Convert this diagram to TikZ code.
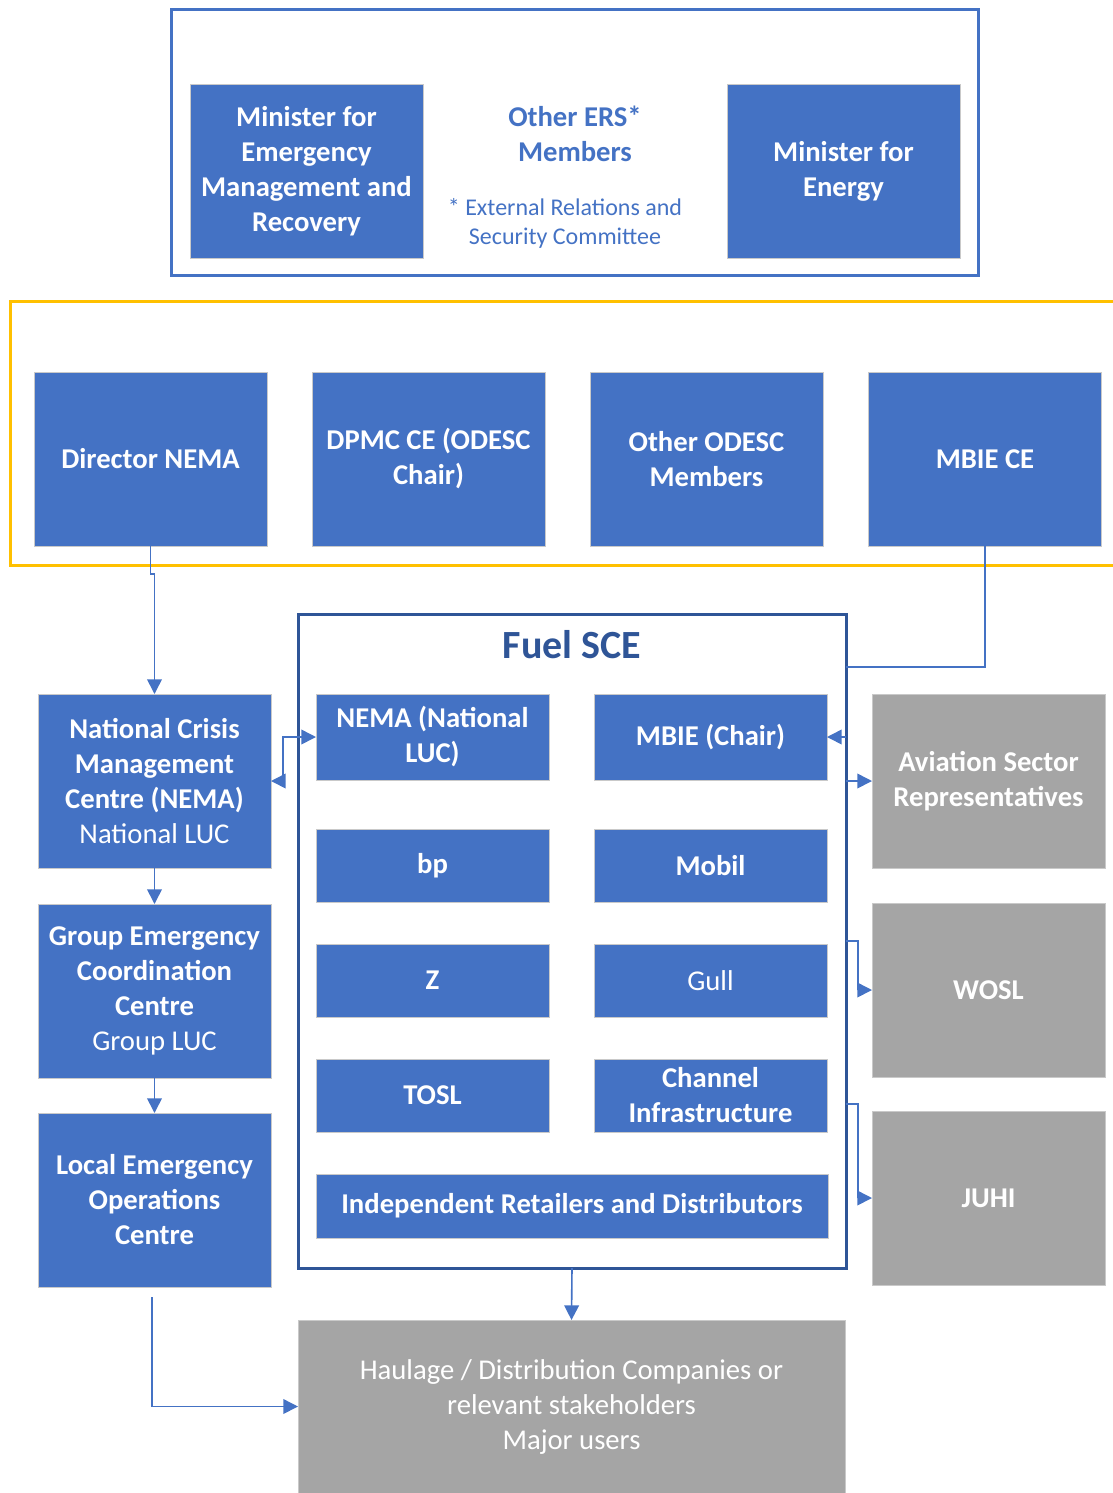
\documentclass[tikz,border=0pt]{standalone}
\usepackage{fontspec}
\setmainfont{Carlito}
\usetikzlibrary{arrows.meta, positioning}
\definecolor{boxblue}{HTML}{4472C4}
\definecolor{darkblue}{HTML}{2F5597}
\definecolor{boxgray}{HTML}{A5A5A5}
\definecolor{frameyellow}{HTML}{FFC000}
\definecolor{edgeline}{HTML}{C9C9C9}
\tikzset{
  box/.style={draw=edgeline, line width=0.75pt, fill=boxblue, text=white, align=center,
    font=\fontsize{21.5}{26.25}\selectfont\bfseries, inner sep=0pt, outer sep=0pt},
  bigbox/.style={box, minimum width=174.75pt, minimum height=130.5pt},
  smallbox/.style={box, minimum width=174.75pt, minimum height=54.75pt},
  graybox/.style={bigbox, fill=boxgray},
  conn/.style={draw=boxblue, line width=1.2pt},
  arr/.style={conn, -{Triangle[length=11pt,width=11pt]}}
}
\begin{document}
\begin{tikzpicture}[x=0.75pt,y=-0.75pt]
  \useasboundingbox (0,0) rectangle (1113,1493);
  \draw[boxblue, line width=2.25pt] (171,9) rectangle (978,275);
  \node[bigbox] (memr) at (306.5,171) {Minister for\\Emergency\\Management and\\Recovery};
  \node[align=center, text=boxblue, font=\fontsize{21.5}{26.25}\selectfont\bfseries] (ers) at (575,134) {Other ERS*\\Members};
  \node[align=center, text=boxblue, font=\fontsize{18}{21.75}\selectfont] (ersnote) at (565,223) {* External Relations and\\Security Committee};
  \node[bigbox] (menergy) at (843.5,171) {Minister for\\Energy};
  \draw[frameyellow, line width=2.25pt] (10,301) rectangle (1130,565);
  \node[bigbox] (director) at (150.5,459) {Director NEMA};
  \node[bigbox] (dpmc) at (428.5,459) {DPMC CE (ODESC\\Chair)};
  \node[bigbox] (odesc) at (706.5,459) {Other ODESC\\Members};
  \node[bigbox] (mbiece) at (985,459) {MBIE CE};
  \node[draw=darkblue, line width=2.25pt, minimum width=411pt, minimum height=490.5pt, outer sep=0pt] (fuel) at (572,941) {};
  \node[text=darkblue, font=\fontsize{30}{35}\selectfont\bfseries] (fueltitle) at (572,645) {Fuel SCE};
  \node[bigbox] (ncmc) at (154.5,781) {National Crisis\\Management\\Centre (NEMA)\\{\mdseries National LUC}};
  \node[bigbox] (gecc) at (154.5,991) {Group Emergency\\Coordination\\Centre\\{\mdseries Group LUC}};
  \node[bigbox] (leoc) at (154.5,1200) {Local Emergency\\Operations\\Centre};
  \node[smallbox, minimum height=64.5pt] (nemaluc) at (432.5,737) {NEMA (National\\LUC)};
  \node[smallbox, minimum height=64.5pt] (mbiechair) at (710.5,737) {MBIE (Chair)};
  \node[smallbox] (bp) at (432.5,865.5) {bp};
  \node[smallbox] (mobil) at (710.5,865.5) {Mobil};
  \node[smallbox] (z) at (432.5,980.5) {Z};
  \node[smallbox, font=\fontsize{21.5}{26.25}\selectfont] (gull) at (710.5,980.5) {Gull};
  \node[smallbox] (tosl) at (432.5,1095.5) {TOSL};
  \node[smallbox] (channel) at (710.5,1095.5) {Channel\\Infrastructure};
  \node[box, minimum width=384pt, minimum height=48pt] (indep) at (572,1206) {Independent Retailers and Distributors};
  \node[graybox] (aviation) at (988.5,781) {Aviation Sector\\Representatives};
  \node[graybox] (wosl) at (988.5,990) {WOSL};
  \node[graybox] (juhi) at (988.5,1198) {JUHI};
  \node[graybox, minimum width=410.25pt, minimum height=129.75pt, font=\fontsize{21.5}{26.25}\selectfont] (haulage) at (571.5,1406.5) {Haulage / Distribution Companies or\\relevant stakeholders\\Major users};
  \draw[arr] (director.south) -- ++(0,28) -| (ncmc.north);
  \draw[conn] (mbiece.south) |- (fuel.east |- 0,667);
  \draw[conn, {Triangle[length=11pt,width=11pt]}-{Triangle[length=11pt,width=11pt]}] (ncmc.east) -- ++(12,0) |- (nemaluc.west);
  \draw[arr] (fuel.east |- mbiechair) -- (mbiechair.east);
  \draw[arr] (fuel.east |- aviation) -- (aviation.west);
  \draw[arr] (fuel.east |- 0,941) -- ++(12,0) |- (wosl.west);
  \draw[arr] (fuel.east |- 0,1104) -- ++(12,0) |- (juhi.west);
  \draw[arr] (ncmc) -- (gecc);
  \draw[arr] (gecc) -- (leoc);
  \draw[arr] (fuel.south) -- (haulage.north);
  \draw[arr] ([xshift=-2pt,yshift=-7.5pt]leoc.south) |- (haulage.west);
\end{tikzpicture}
\end{document}
